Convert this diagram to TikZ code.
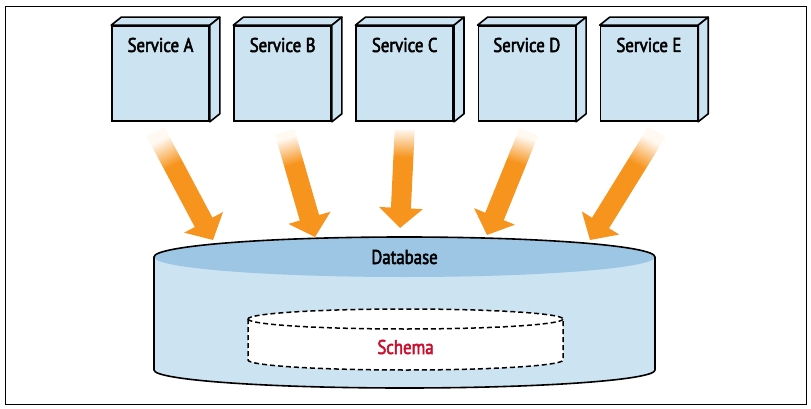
\documentclass[tikz,border=0pt]{standalone}
\usepackage{fontspec}
\setmainfont{PT Sans}[FakeStretch=0.84, FakeBold=2.5]
\usetikzlibrary{positioning,calc}
\definecolor{svcblue}{RGB}{204,227,241}
\definecolor{dbtop}{RGB}{157,198,228}
\definecolor{arrorange}{RGB}{247,148,29}
\definecolor{schemared}{RGB}{200,16,46}
\pgfdeclareverticalshading{arrowfade}{100bp}{color(0bp)=(arrorange); color(61bp)=(arrorange); color(75bp)=(arrorange!6); color(100bp)=(arrorange!6)}

% fat arrow: tail, tip, shading angle
\newcommand{\fatarrow}[3]{%
  \path ($(#2)!20pt!(#1)$) coordinate (h);
  \shade[shading=arrowfade, shading angle=#3]
    ($(#1)!10pt!90:(#2)$) -- ($(h)!10pt!90:(#2)$) -- ($(h)!22pt!90:(#2)$)
    -- (#2) -- ($(h)!22pt!-90:(#2)$) -- ($(h)!10pt!-90:(#2)$)
    -- ($(#1)!10pt!-90:(#2)$) -- cycle;}

\begin{document}
\begin{tikzpicture}[
  x=1pt, y=1pt,
  font=\fontsize{20}{23}\selectfont,
  svc/.style={draw, line width=1.6pt, fill=svcblue, minimum width=97pt,
              inner sep=0pt, text height=26pt, text depth=69pt},
  face/.style={draw, line width=1.6pt, fill=svcblue, line join=round},
  dbline/.style={line width=1.6pt},
  schemaline/.style={line width=1.5pt, dash pattern=on 5pt off 3pt},
]
\useasboundingbox (0,0) rectangle (811,-409);
\draw[line width=0.9pt] (5,-6) rectangle (806,-404);

% --- services ---
\node[svc] (svcA) at (160.5,-73.5) {Service A};
\node[svc, right=23.5pt of svcA] (svcB) {Service B};
\node[svc, right=23.5pt of svcB] (svcC) {Service C};
\node[svc, right=23.5pt of svcC] (svcD) {Service D};
\node[svc, right=23.5pt of svcD] (svcE) {Service E};
\foreach \s in {A,B,C,D,E}{
  \draw[face] (svc\s.north west) -- ++(10,8) -- ($(svc\s.north east)+(10,8)$)
    -- (svc\s.north east) -- cycle;
  \draw[face] (svc\s.north east) -- ++(10,8) -- ($(svc\s.south east)+(10,8)$)
    -- (svc\s.south east) -- cycle;
}

% --- database ---
\coordinate (dbc) at (404.5,-257);
\fill[svcblue] (154,-257) -- (154,-370)
  arc[start angle=180, end angle=360, x radius=250.5, y radius=18]
  -- (655,-257) -- cycle;
\fill[dbtop] (dbc) ellipse[x radius=250.5, y radius=20];
\draw[dbline] (154,-370) -- (154,-257)
  arc[start angle=180, end angle=0, x radius=250.5, y radius=20]
  -- (655,-370)
  arc[start angle=0, end angle=-180, x radius=250.5, y radius=18] -- cycle;
\node (db) at (dbc) {Database};

% --- schema ---
\filldraw[fill=white, schemaline] (248,-319) -- (248,-360)
  arc[start angle=180, end angle=360, x radius=157.5, y radius=10]
  -- (563,-319)
  arc[start angle=0, end angle=180, x radius=157.5, y radius=10] -- cycle;
\draw[schemaline] (248,-319)
  arc[start angle=180, end angle=360, x radius=157.5, y radius=10];
\node[text=schemared] (schema) at (405.5,-347) {Schema};

% --- arrows ---
\coordinate (tA) at ($(svcA.south)+(-5,-10)$);
\coordinate (tB) at ($(svcB.south)+(2,-10)$);
\coordinate (tC) at ($(svcC.south)+(0,-8)$);
\coordinate (tD) at ($(svcD.south)+(2,-10)$);
\coordinate (tE) at ($(svcE.south)+(8,-10)$);
\coordinate (pA) at ($(dbc)+(-191.5,17)$);
\coordinate (pB) at ($(dbc)+(-89.5,20)$);
\coordinate (pC) at ($(dbc)+(-4.5,29)$);
\coordinate (pD) at ($(dbc)+(82.5,22)$);
\coordinate (pE) at ($(dbc)+(185.5,17)$);
\fatarrow{tA}{pA}{28}
\fatarrow{tB}{pB}{17}
\fatarrow{tC}{pC}{0}
\fatarrow{tD}{pD}{-18}
\fatarrow{tE}{pE}{-29}
\end{tikzpicture}
\end{document}
